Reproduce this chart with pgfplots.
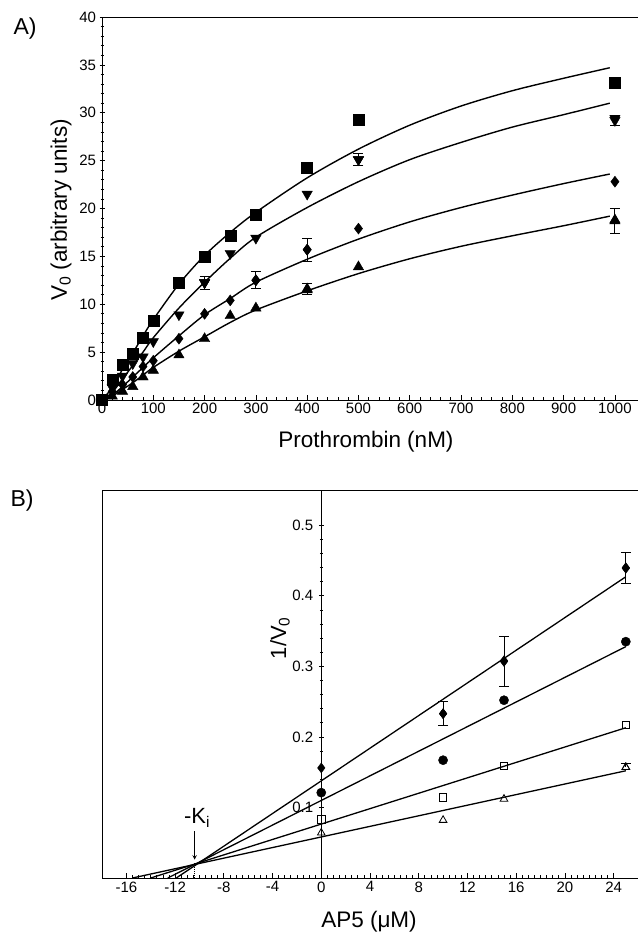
\documentclass[border=0pt]{standalone}
\usepackage{pgfplots}
\pgfplotsset{compat=1.18}
\usepackage{fontspec}
\setmainfont{Liberation Sans}

\pgfplotsset{
  kin/.style={
    scale only axis, clip=false,
    axis line style={line width=0.9pt},
    tick style={black, line width=0.7pt},
    tick align=inside,
    major tick length=5pt, minor tick length=3pt,
    tick label style={font=\fontsize{15}{18}\selectfont},
    /pgf/number format/assume math mode=true,
    /pgf/number format/1000 sep={},
  },
  noarrows/.style={
    every outer x axis line/.append style={-},
    every outer y axis line/.append style={-},
    every inner x axis line/.append style={-},
    every inner y axis line/.append style={-},
  },
  fit/.style={black, line width=1.4pt, mark=none},
  pts/.style={only marks, black, mark options={solid, fill=black}},
  err/.style={only marks, black, mark options={solid, fill=black},
    error bars/y dir=both, error bars/y explicit,
    error bars/error bar style={line width=0.9pt},
    error bars/error mark options={rotate=90, mark size=5pt, line width=0.9pt}},
}

\begin{document}
\begin{tikzpicture}

% ---- A) ----
\begin{axis}[kin,
    at={(102pt,534pt)}, anchor=south west,
    width=536pt, height=383pt,
    xmin=0, xmax=1045, ymin=0, ymax=40,
    axis x line=box, axis y line=left, noarrows,
    xtick pos=left,
    xtick={0,100,...,1000}, ytick={0,5,...,40},
    minor x tick num=4, minor y tick num=4,
]
% fitted curves
\addplot[fit, smooth] coordinates {(0,0) (20,1.3) (40,3.2) (60,4.9) (80,6.7) (100,8.4) (150,12.1) (200,15.1) (250,17.5) (300,19.6) (400,23.2) (500,26.2) (600,28.7) (700,30.7) (800,32.3) (900,33.6) (990,34.7)};
\addplot[fit, smooth] coordinates {(0,0) (20,0.8) (40,2.2) (60,3.6) (80,5.0) (100,6.5) (150,9.6) (200,12.3) (250,14.8) (300,17.0) (400,20.1) (500,22.8) (600,25.1) (700,26.9) (800,28.5) (900,29.8) (990,31.0)};
\addplot[fit, smooth] coordinates {(0,0) (20,0.5) (40,1.4) (60,2.4) (80,3.4) (100,4.4) (150,6.7) (200,8.9) (250,10.6) (300,12.3) (400,14.7) (500,16.8) (600,18.6) (700,20.1) (800,21.4) (900,22.6) (990,23.6)};
\addplot[fit, smooth] coordinates {(0,0) (20,0.4) (40,1.1) (60,1.8) (80,2.6) (100,3.4) (150,5.1) (200,6.6) (250,8.1) (300,9.4) (400,11.4) (500,13.2) (600,14.75) (700,16.05) (800,17.15) (900,18.2) (990,19.2)};

% squares
\addplot[pts, mark=square*, mark size=5.5pt] coordinates {(0,0) (20,2.1) (40,3.65) (60,4.8) (80,6.5) (100,8.25) (150,12.2) (200,15.0) (250,17.2) (300,19.3) (400,24.3) (500,29.3) (1000,33.1)};
% down triangles
\addplot[pts, mark=triangle*, mark size=6pt, mark options={rotate=180}] coordinates {(20,1.3) (40,2.5) (60,3.8) (80,4.5) (100,6.1) (150,8.9) (200,12.25) (250,15.3) (300,16.9) (400,21.5) (500,25.1) (1000,29.4)};
\addplot[err, mark=triangle*, mark size=6pt, mark options={rotate=180}] coordinates {(200,12.25) +- (0,0.7) (500,25.1) +- (0,0.6) (1000,29.2) +- (0,0.55)};
% diamonds
\addplot[pts, mark=diamond*, mark size=5.5pt] coordinates {(20,0.9) (40,1.6) (60,2.4) (80,3.5) (100,4.1) (150,6.4) (200,9.0) (250,10.4) (300,12.5) (400,15.7) (500,17.9) (1000,22.8)};
\addplot[err, mark=diamond*, mark size=5.5pt] coordinates {(300,12.5) +- (0,0.9) (400,15.7) +- (0,1.2)};
% up triangles
\addplot[pts, mark=triangle*, mark size=6pt] coordinates {(20,0.4) (40,0.9) (60,1.4) (80,2.4) (100,3.1) (150,4.7) (200,6.4) (250,8.8) (300,9.6) (400,11.5) (500,13.9) (1000,18.8)};
\addplot[err, mark=triangle*, mark size=6pt] coordinates {(400,11.6) +- (0,0.55) (1000,18.7) +- (0,1.3)};
\end{axis}

% ---- B) ----
\begin{axis}[kin,
    at={(102pt,56pt)}, anchor=south west,
    width=536pt, height=388pt,
    xmin=-18, xmax=26, ymin=0, ymax=0.55,
    axis x line=box, axis y line=middle, noarrows,
    xtick pos=left,
    hide obscured x ticks=false, hide obscured y ticks=false,
    xtick={-16,-12,...,24}, ytick={0.1,0.2,0.3,0.4,0.5},
    minor x tick num=7, minor y tick num=4,
    yticklabel style={anchor=east, xshift=-2pt},
]
\draw[line width=0.9pt] (rel axis cs:0,0) -- (rel axis cs:0,1);
% fitted lines
\addplot[fit, line width=1.3pt] coordinates {(-11.9,0) (25,0.427)};
\addplot[fit, line width=1.3pt] coordinates {(-12.6,0) (25,0.328)};
\addplot[fit, line width=1.3pt] coordinates {(-14.0,0) (25,0.213)};
\addplot[fit, line width=1.3pt] coordinates {(-15.5,0) (25,0.152)};
% -Ki
\draw[densely dotted, line width=1pt] (axis cs:-10.4,0) -- (axis cs:-10.4,0.021);
\draw[-stealth, line width=1pt] (axis cs:-10.4,0.066) -- (axis cs:-10.4,0.026);

\addplot[pts, mark=diamond*, mark size=5pt] coordinates {(0,0.156) (10,0.233) (15,0.308) (25,0.439)};
\addplot[err, mark=diamond*, mark size=5pt] coordinates {(10,0.233) +- (0,0.017) (15,0.307) +- (0,0.036) (25,0.440) +- (0,0.022)};
\addplot[pts, mark=*, mark size=4.6pt] coordinates {(0,0.121) (10,0.167) (15,0.252) (25,0.335)};
\addplot[only marks, black, mark=square, mark size=3.8pt, mark options={line width=0.8pt}] coordinates {(0,0.083) (10,0.114) (15,0.159) (25,0.217)};
\addplot[only marks, black, mark=triangle, mark size=4.4pt, mark options={line width=0.8pt}] coordinates {(0,0.064) (10,0.082) (15,0.112) (25,0.157)};
\addplot[only marks, black, mark=triangle, mark size=4.4pt, mark options={line width=0.8pt},
    error bars/y dir=plus, error bars/y explicit,
    error bars/error bar style={line width=0.9pt},
    error bars/error mark options={rotate=90, mark size=5pt, line width=0.9pt}]
    coordinates {(25,0.157) +- (0,0.006)};
\end{axis}

% labels
\node[font=\fontsize{23}{27}\selectfont] at (25pt,905pt) {A)};
\node[font=\fontsize{23}{27}\selectfont] at (22pt,433pt) {B)};
\node[font=\fontsize{22.5}{27}\selectfont] at (366pt,492pt) {Prothrombin (nM)};
\node[font=\fontsize{22.5}{27}\selectfont, rotate=90] at (61pt,724pt) {V\textsubscript{0} (arbitrary units)};
\node[font=\fontsize{22.5}{27}\selectfont] at (369pt,12pt) {AP5 (μM)};
\node[font=\fontsize{22}{26}\selectfont, rotate=90] at (280pt,296pt) {1/V\textsubscript{0}};
\node[font=\fontsize{22}{26}\selectfont] at (197pt,116pt) {-K\textsubscript{i}};

\pgfresetboundingbox
\path[use as bounding box] (0pt,0pt) rectangle (639pt,934pt);
\end{tikzpicture}
\end{document}
